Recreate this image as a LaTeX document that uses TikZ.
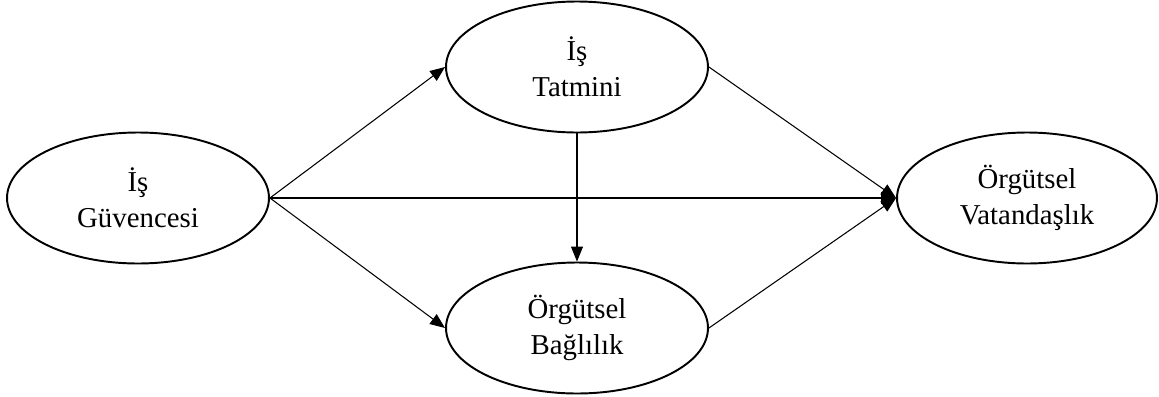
\documentclass[tikz,border=0pt]{standalone}
\usepackage{fontspec}
\setmainfont{Liberation Serif}
\usetikzlibrary{shapes.geometric,arrows.meta}

\begin{document}
\begin{tikzpicture}[x=0.02cm,y=-0.02cm,
  var/.style={ellipse,draw,line width=1.1pt,minimum width=5.24cm,minimum height=2.62cm,
    align=center,font=\fontsize{16.4}{20.5}\selectfont,inner sep=0pt},
  path/.style={line width=0.6pt,-{Triangle[length=0.3cm,width=0.24cm]}}]
  \useasboundingbox (0,0) rectangle (1159,396);

  \node[var] (guv) at (138,198) {İş\\Güvencesi};
  \node[var] (tat) at (577,67) {İş\\Tatmini};
  \node[var] (bag) at (577,328) {Örgütsel\\Bağlılık};
  \node[var,minimum width=5.2cm] (vat) at (1027,198) {Örgütsel\\Vatandaşlık};

  \draw[path] (guv.east) -- (tat.west);
  \draw[path] (guv.east) -- (bag.west);
  \draw[path] (guv.east) -- (vat.west);
  \draw[path] (tat.south) -- (bag.north);
  \draw[path] (tat.east) -- (vat.west);
  \draw[path] (bag.east) -- (vat.west);

\end{tikzpicture}
\end{document}
